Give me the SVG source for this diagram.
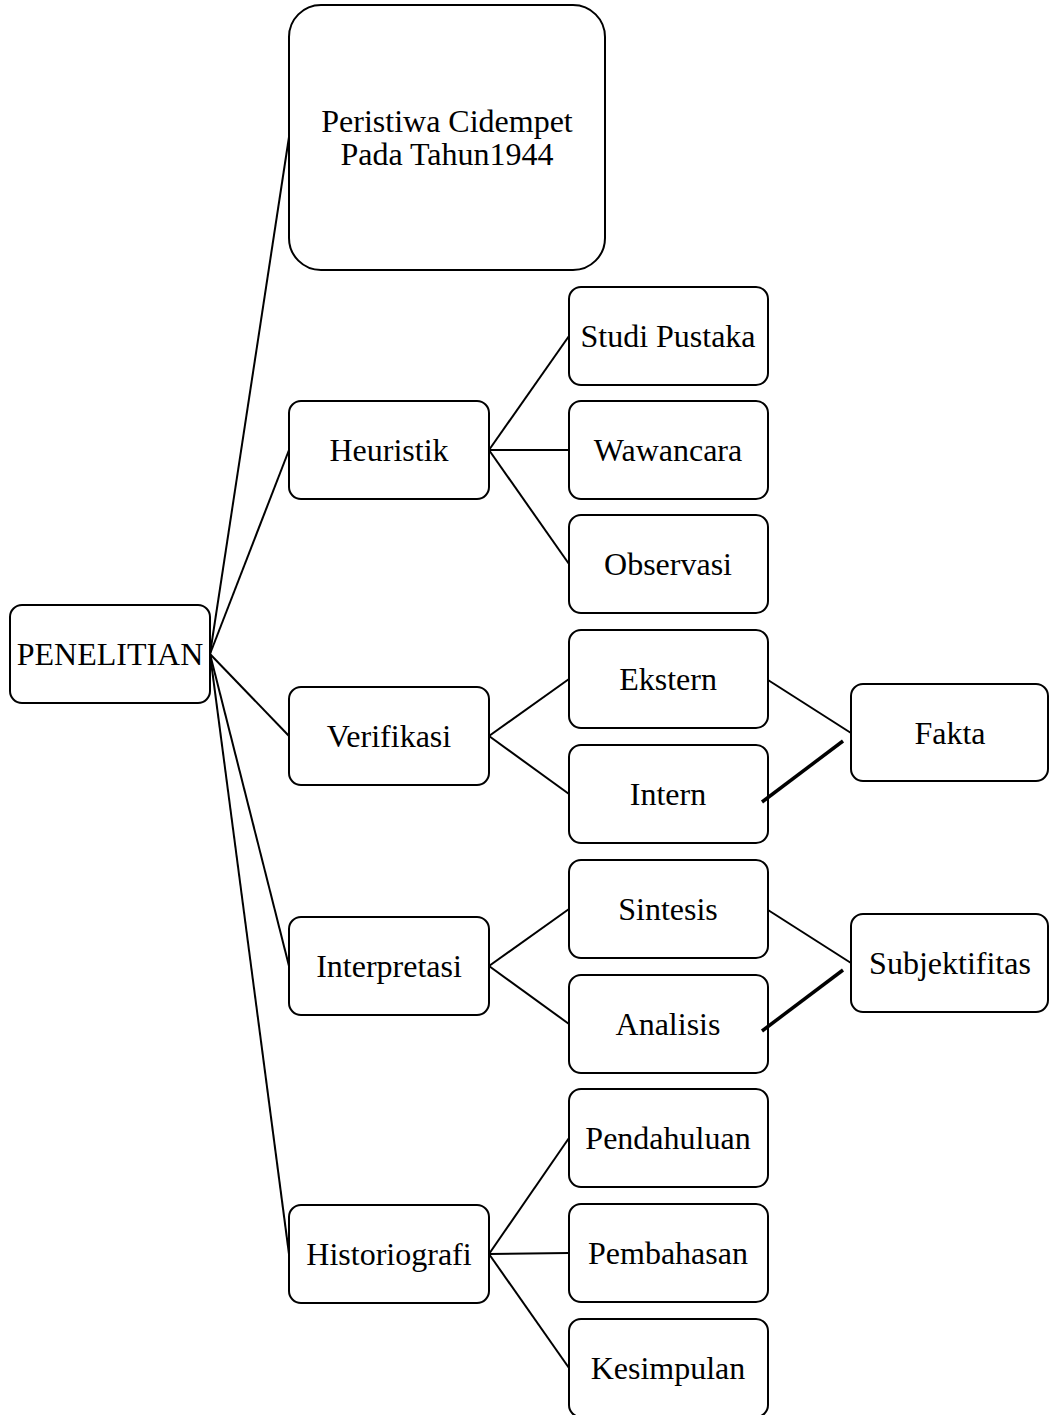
<svg xmlns="http://www.w3.org/2000/svg" width="1049" height="1415" viewBox="0 0 1049 1415">
<style>
.box{fill:#fff;stroke:#000;stroke-width:2}
.t{font-family:"Liberation Serif","Times New Roman",serif;font-size:32px;fill:#000;text-anchor:middle}
.c line{stroke:#000;stroke-width:2}
.c line.thick{stroke-width:3.5}
</style>
<rect width="1049" height="1415" fill="#fff"/>
<g class="c" id="connectors">
<line x1="210" y1="654" x2="289" y2="137"/>
<line x1="210" y1="654" x2="289" y2="450"/>
<line x1="210" y1="654" x2="289" y2="736"/>
<line x1="210" y1="654" x2="289" y2="966"/>
<line x1="210" y1="654" x2="289" y2="1254"/>
<line x1="489" y1="450" x2="569" y2="336"/>
<line x1="489" y1="450" x2="569" y2="450"/>
<line x1="489" y1="450" x2="569" y2="564"/>
<line x1="489" y1="736" x2="569" y2="679"/>
<line x1="489" y1="736" x2="569" y2="794"/>
<line x1="768" y1="680" x2="851" y2="733"/>
<line x1="489" y1="966" x2="569" y2="909"/>
<line x1="489" y1="966" x2="569" y2="1024"/>
<line x1="768" y1="910" x2="851" y2="963"/>
<line x1="489" y1="1254" x2="569" y2="1138"/>
<line x1="489" y1="1254" x2="569" y2="1253"/>
<line x1="489" y1="1254" x2="569" y2="1368"/>
</g>
<g id="penelitian"><rect class="box" x="10" y="605" width="200" height="98" rx="12"/><text class="t" x="110" y="665">PENELITIAN</text></g>
<g id="peristiwa"><rect class="box" x="289" y="5" width="316" height="265" rx="32"/><text class="t" x="447" y="132">Peristiwa Cidempet</text><text class="t" x="447" y="165">Pada Tahun1944</text></g>
<g id="heuristik"><rect class="box" x="289" y="401" width="200" height="98" rx="12"/><text class="t" x="389" y="461">Heuristik</text></g>
<g id="verifikasi"><rect class="box" x="289" y="687" width="200" height="98" rx="12"/><text class="t" x="389" y="747">Verifikasi</text></g>
<g id="interpretasi"><rect class="box" x="289" y="917" width="200" height="98" rx="12"/><text class="t" x="389" y="977">Interpretasi</text></g>
<g id="historiografi"><rect class="box" x="289" y="1205" width="200" height="98" rx="12"/><text class="t" x="389" y="1265">Historiografi</text></g>
<g id="studi"><rect class="box" x="569" y="287" width="199" height="98" rx="12"/><text class="t" x="668" y="347">Studi Pustaka</text></g>
<g id="wawancara"><rect class="box" x="569" y="401" width="199" height="98" rx="12"/><text class="t" x="668" y="461">Wawancara</text></g>
<g id="observasi"><rect class="box" x="569" y="515" width="199" height="98" rx="12"/><text class="t" x="668" y="575">Observasi</text></g>
<g id="ekstern"><rect class="box" x="569" y="630" width="199" height="98" rx="12"/><text class="t" x="668" y="690">Ekstern</text></g>
<g id="intern"><rect class="box" x="569" y="745" width="199" height="98" rx="12"/><text class="t" x="668" y="805">Intern</text></g>
<g id="fakta"><rect class="box" x="851" y="684" width="197" height="97" rx="12"/><text class="t" x="950" y="744">Fakta</text></g>
<g id="sintesis"><rect class="box" x="569" y="860" width="199" height="98" rx="12"/><text class="t" x="668" y="920">Sintesis</text></g>
<g id="analisis"><rect class="box" x="569" y="975" width="199" height="98" rx="12"/><text class="t" x="668" y="1035">Analisis</text></g>
<g id="subjektifitas"><rect class="box" x="851" y="914" width="197" height="98" rx="12"/><text class="t" x="950" y="974">Subjektifitas</text></g>
<g id="pendahuluan"><rect class="box" x="569" y="1089" width="199" height="98" rx="12"/><text class="t" x="668" y="1149">Pendahuluan</text></g>
<g id="pembahasan"><rect class="box" x="569" y="1204" width="199" height="98" rx="12"/><text class="t" x="668" y="1264">Pembahasan</text></g>
<g id="kesimpulan"><rect class="box" x="569" y="1319" width="199" height="98" rx="12"/><text class="t" x="668" y="1379">Kesimpulan</text></g>
<g class="c" id="connectors-over">
<line class="thick" x1="762" y1="802" x2="843" y2="741"/>
<line class="thick" x1="762" y1="1031" x2="843" y2="970"/>
</g>
</svg>
